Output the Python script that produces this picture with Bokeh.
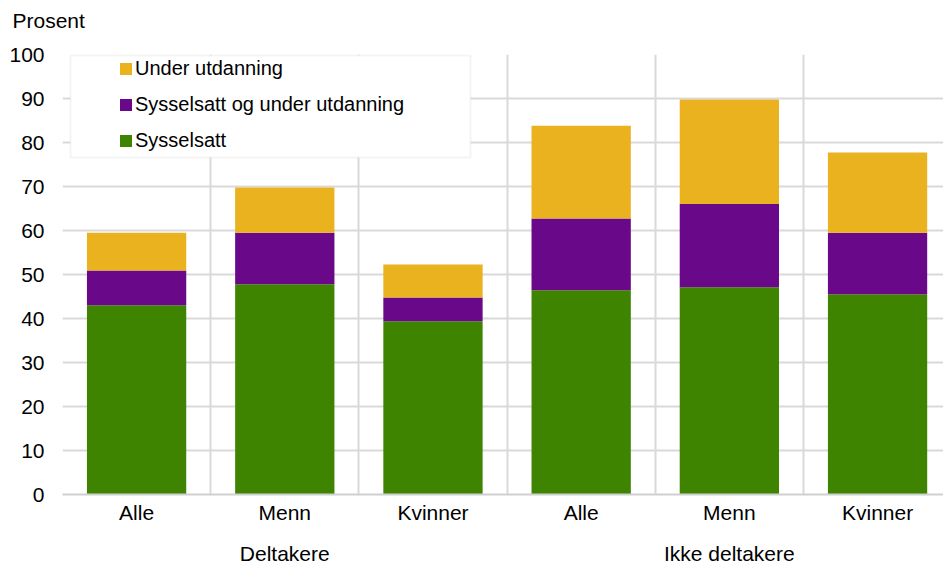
from bokeh.plotting import figure
from bokeh.models import (Range1d, FixedTicker, LinearAxis, Legend, LegendItem,
                          BoxAnnotation, ColumnDataSource)
from bokeh.embed import file_html
from bokeh.resources import INLINE

# ---- data ----
subcats = ["Alle", "Menn", "Kvinner", "Alle", "Menn", "Kvinner"]
groups = ["Deltakere", "Deltakere", "Deltakere",
          "Ikke deltakere", "Ikke deltakere", "Ikke deltakere"]
group_names = ["Deltakere", "Ikke deltakere"]
series = ["Sysselsatt", "Sysselsatt og under utdanning", "Under utdanning"]
sysselsatt = [43.0, 47.8, 39.4, 46.4, 47.1, 45.5]
begge = [7.9, 11.7, 5.4, 16.3, 18.9, 14.0]
under = [8.6, 10.3, 7.5, 21.1, 23.8, 18.2]
y_ticks = list(range(0, 101, 10))
unit_label = "Prosent"

colors = ["#3F8400", "#690888", "#EBB220"]
FONT = "Liberation Sans"
GRID = "#d9d9d9"
FS = "21px"

xs = list(range(len(subcats)))
src = ColumnDataSource(dict(x=xs, s=sysselsatt, b=begge, u=under))

p = figure(width=943, height=567, output_backend="svg", toolbar_location=None,
           x_range=Range1d(-0.5, 5.445), y_range=Range1d(0, 100),
           min_border_left=62, min_border_right=0, min_border_top=54,
           min_border_bottom=73)
p.outline_line_color = None
p.background_fill_color = "white"
p.border_fill_color = "white"

# unit label as a left-aligned title
p.title.text = unit_label
p.title.align = "left"
p.title.offset = -50
p.title.standoff = 10
p.title.vertical_align = "bottom"
p.title.text_font = FONT
p.title.text_font_size = FS
p.title.text_font_style = "normal"
p.title.text_color = "#000000"

rends = p.vbar_stack(["s", "b", "u"], x="x", width=0.67, color=colors,
                     line_color=None, source=src)

# grids
p.xgrid.ticker = FixedTicker(ticks=[i - 0.5 for i in range(len(subcats) + 1)])
p.ygrid.ticker = FixedTicker(ticks=y_ticks)
for g in (p.xgrid[0], p.ygrid[0]):
    g.grid_line_color = GRID
    g.grid_line_width = 2


def plain(ax, standoff):
    ax.axis_line_color = None
    ax.major_tick_line_color = None
    ax.minor_tick_line_color = None
    ax.major_tick_in = 0
    ax.major_tick_out = 0
    ax.major_label_standoff = standoff
    ax.major_label_text_font = FONT
    ax.major_label_text_font_size = FS
    ax.major_label_text_color = "#000000"


# y axis
ya = p.yaxis[0]
ya.ticker = FixedTicker(ticks=y_ticks)
plain(ya, 18)

# x axis (subcategories)
xa = p.xaxis[0]
xa.ticker = FixedTicker(ticks=xs)
xa.major_label_overrides = {i: subcats[i] for i in xs}
plain(xa, 6)
xa.axis_line_color = "#d0d0d0"
xa.axis_line_width = 2

# group axis
centers = [int(round(sum(x for x, g in zip(xs, groups) if g == n) /
                     sum(1 for g in groups if g == n))) for n in group_names]
ga = LinearAxis(ticker=FixedTicker(ticks=centers),
                major_label_overrides={c: n for c, n in zip(centers, group_names)})
plain(ga, 15)
p.add_layout(ga, "below")

# invisible spacer axis between frame and title
sp = LinearAxis(ticker=FixedTicker(ticks=[xs[-1]]))
plain(sp, 0)
sp.major_tick_out = 18
sp.major_tick_line_color = "white"
sp.major_label_text_font_size = "0px"
sp.major_label_text_alpha = 0
p.add_layout(sp, "above")

# legend frame
box = BoxAnnotation(left=8, right=408, top=439, bottom=337,
                    left_units="screen", right_units="screen",
                    top_units="screen", bottom_units="screen",
                    fill_color="white", fill_alpha=1.0,
                    line_color=GRID, line_width=2)
p.add_layout(box)

items = [LegendItem(label=series[i], renderers=[rends[i]]) for i in (2, 1, 0)]
legend = Legend(items=items, location=(56, 342), padding=0, spacing=12,
                glyph_width=15, glyph_height=15, label_height=24,
                label_standoff=2, label_text_font=FONT,
                label_text_font_size="20px", label_text_color="#000000",
                border_line_color=None, background_fill_alpha=0)
p.add_layout(legend)

open("out.html", "w").write(file_html(p, INLINE))
